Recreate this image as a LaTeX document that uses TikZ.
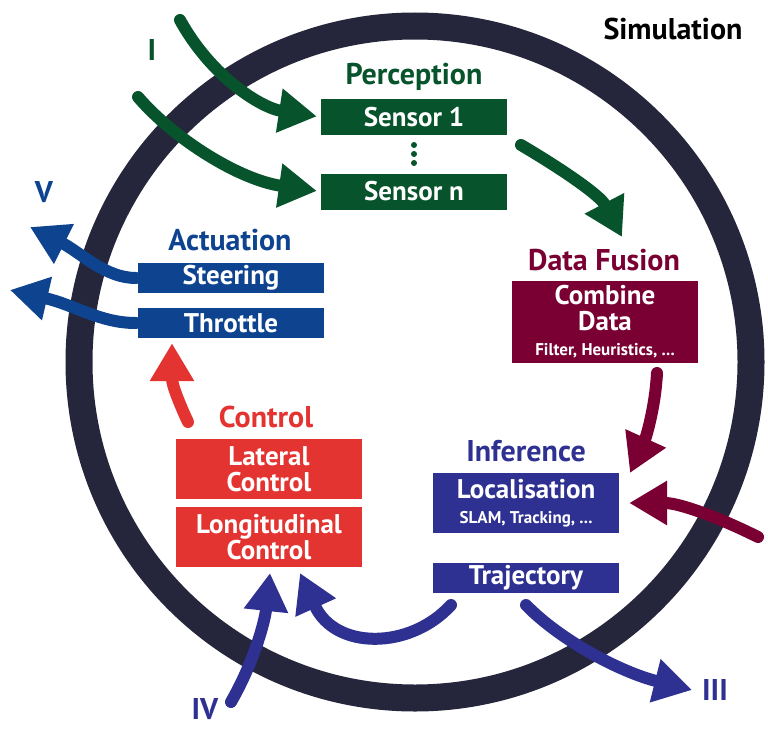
\documentclass[tikz,border=0pt]{standalone}
\usepackage{fontspec}
\setmainfont{PT Sans}
\usetikzlibrary{arrows.meta}
\definecolor{ringc}{HTML}{25263B}
\definecolor{perc}{HTML}{07532B}
\definecolor{fus}{HTML}{7A0034}
\definecolor{ctrl}{HTML}{E43431}
\definecolor{act}{HTML}{0E448F}
\definecolor{inf}{HTML}{2E3192}
\begin{document}
\begin{tikzpicture}[x=1pt,y=-1pt,
  box/.style={rectangle, inner sep=0pt, text=white, minimum width=186pt,
    font=\bfseries\fontsize{27}{26}\selectfont, align=center},
  ttl/.style={font=\bfseries\fontsize{30}{30}\selectfont, inner sep=0pt},
  arr/.style={line width=12pt, line cap=round, -{Triangle[length=38pt,width=42pt]}}]
\useasboundingbox (0,0) rectangle (768,728);
\fill[white] (0,0) rectangle (768,728);
% ring
\draw[line width=27pt, ringc] (415,362) circle[radius=336];
% titles
\node[ttl] (sim) at (673,29) {Simulation};
\node[ttl, text=perc] (perct) at (414,77) {Perception};
\node[ttl, text=fus] (fust) at (604,260) {Data Fusion};
\node[ttl, text=inf] (inft) at (526,451) {Inference};
\node[ttl, text=act] (actt) at (230,240) {Actuation};
\node[ttl, text=ctrl] (ctrlt) at (266,417) {Control};
% labels
\node[ttl, text=perc] (lI) at (152,50) {I};
\node[ttl, text=act] (lV) at (44,192) {V};
\node[ttl, text=inf] (lIII) at (715,690) {III};
\node[ttl, text=inf] (lIV) at (205,709) {IV};
% boxes
\node[box, fill=perc, minimum height=36pt] (s1) at (414,117) {Sensor 1};
\node[box, fill=perc, minimum height=36pt] (sn) at (414,191.5) {Sensor n};
\fill[perc] (414,145) circle[radius=3] (414,154) circle[radius=3] (414,163) circle[radius=3];
\node[box, fill=fus, minimum height=82pt] (comb) at (605,322)
  {Combine\\Data\\[-1pt]{\fontsize{17}{18}\selectfont Filter, Heuristics, ...}};
\node[box, fill=inf, minimum height=60pt] (loc) at (526,503)
  {Localisation\\[-1pt]{\fontsize{17}{18}\selectfont SLAM, Tracking, ...}};
\node[box, fill=inf, minimum height=30pt] (traj) at (526,578) {Trajectory};
\node[box, fill=act, minimum height=30pt] (steer) at (231,278) {Steering};
\node[box, fill=act, minimum height=30pt] (thr) at (231,323) {Throttle};
\node[box, fill=ctrl, minimum height=60pt] (lat) at (269,469) {Lateral\\Control};
\node[box, fill=ctrl, minimum height=60pt] (lon) at (269,537) {Longitudinal\\Control};
% free ends
\coordinate (i1) at (180,20);
\coordinate (i2) at (138,97);
\coordinate (g3s) at (521,145);
\coordinate (g3e) at (622,237);
\coordinate (m1s) at (657,373);
\coordinate (m1e) at (630,473);
\coordinate (m2s) at (758,537);
\coordinate (t3s) at (526,605);
\coordinate (t3e) at (692,690);
\coordinate (t4s) at (451,605);
\coordinate (t4e) at (300,573);
\coordinate (ivs) at (231,702);
\coordinate (ive) at (270,573);
\coordinate (rs) at (188,422);
\coordinate (v1e) at (30,227);
\coordinate (v2e) at (10,290);
% arrows
\draw[arr, perc, shorten >=4pt] (i1) .. controls (212,78) and (262,108) .. (s1.west);
\draw[arr, perc, shorten >=4pt] (i2) .. controls (175,140) and (240,180) .. (sn.west);
\draw[arr, perc] (g3s) .. controls (560,168) and (600,195) .. (g3e);
\draw[arr, fus] (m1s) .. controls (655,410) and (645,440) .. (m1e);
\draw[arr, fus, shorten >=10pt] (m2s) .. controls (720,518) and (680,503) .. (loc.east);
\draw[arr, inf] (t3s) .. controls (560,640) and (620,672) .. (t3e);
\draw[arr, inf] (t4s) .. controls (410,650) and (335,650) .. (t4e);
\draw[arr, inf] (ivs) .. controls (255,660) and (265,620) .. (ive);
\draw[arr, ctrl, shorten >=5pt] (rs) .. controls (180,405) and (172,385) .. (thr.south -| 172,0);
\draw[arr, act, shorten <=2pt] (steer.west) .. controls (105,278) and (80,252) .. (v1e);
\draw[arr, act, shorten <=2pt] (thr.west) .. controls (100,323) and (75,305) .. (v2e);
\end{tikzpicture}
\end{document}
